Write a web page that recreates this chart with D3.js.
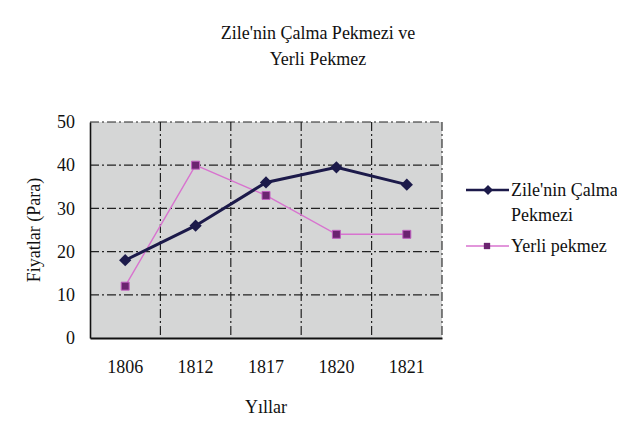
<!DOCTYPE html>
<html lang="tr">
<head>
<meta charset="UTF-8">
<title>Zile'nin Çalma Pekmezi ve Yerli Pekmez</title>
<script src="https://cdn.jsdelivr.net/npm/d3@7"></script>
<style>
  body { margin: 0; background: #fff; }
  svg text { font-family: "Liberation Serif", "Times New Roman", Times, serif !important; fill: #111; font-size: 18px; }
</style>
</head>
<body>
<script>
var years = ["1806", "1812", "1817", "1820", "1821"];
var zile = [18, 26, 36, 39.5, 35.5];
var yerli = [12, 40, 33, 24, 24];
var yTicks = [0, 10, 20, 30, 40, 50];

var width = 617, height = 443;
var plot = {left: 90, right: 442, top: 122, bottom: 338};

var svg = d3.select("body").append("svg").attr("width", width).attr("height", height);

var x = d3.scaleBand().domain(years).range([plot.left, plot.right]);
var y = d3.scaleLinear().domain([0, 50]).range([plot.bottom, plot.top]);

// title
svg.append("text").attr("x", 318).attr("y", 39).attr("text-anchor", "middle").text("Zile'nin Çalma Pekmezi ve");
svg.append("text").attr("x", 318).attr("y", 65).attr("text-anchor", "middle").text("Yerli Pekmez");

// plot background
svg.append("rect").attr("x", plot.left).attr("y", plot.top)
  .attr("width", plot.right - plot.left).attr("height", plot.bottom - plot.top)
  .attr("fill", "#d5d6d6");

// gridlines
svg.append("g").selectAll("line").data(yTicks.slice(1)).enter().append("line")
  .attr("x1", plot.left).attr("x2", plot.right)
  .attr("y1", function(d){ return y(d); }).attr("y2", function(d){ return y(d); })
  .attr("stroke", "#222").attr("stroke-width", 1.2).attr("stroke-dasharray", "9,3,2,3");
svg.append("g").selectAll("line").data(years.slice(1)).enter().append("line")
  .attr("x1", function(d){ return x(d); }).attr("x2", function(d){ return x(d); })
  .attr("y1", plot.top).attr("y2", plot.bottom)
  .attr("stroke", "#222").attr("stroke-width", 1.2).attr("stroke-dasharray", "9,3,2,3");
svg.append("line").attr("x1", plot.right).attr("x2", plot.right)
  .attr("y1", plot.top).attr("y2", plot.bottom)
  .attr("stroke", "#333").attr("stroke-width", 1.2).attr("stroke-dasharray", "9,3,2,3");

// axes
var yAxis = d3.axisLeft(y).tickValues(yTicks).tickSize(0).tickPadding(15);
var gy = svg.append("g").attr("transform", "translate(" + plot.left + ",0)").call(yAxis);
gy.select(".domain").attr("stroke", "#111").attr("stroke-width", 1.6);

var xAxis = d3.axisBottom(x).tickSize(0).tickPadding(22);
var gx = svg.append("g").attr("transform", "translate(0," + plot.bottom + ")").call(xAxis);
gx.select(".domain").attr("stroke", "#111").attr("stroke-width", 2);

// axis titles
svg.append("text").attr("transform", "translate(40,230) rotate(-90)")
  .attr("text-anchor", "middle").text("Fiyatlar (Para)");
svg.append("text").attr("x", 266).attr("y", 413).attr("text-anchor", "middle").text("Yıllar");

// lines
var line = d3.line()
  .x(function(d, i){ return x(years[i]) + x.bandwidth() / 2; })
  .y(function(d){ return y(d); });

svg.append("path").datum(yerli).attr("d", line).attr("fill", "none")
  .attr("stroke", "#d873cf").attr("stroke-width", 1.4);
svg.append("path").datum(zile).attr("d", line).attr("fill", "none")
  .attr("stroke", "#1c1a4a").attr("stroke-width", 3);

var diamond = d3.symbol().type(d3.symbolSquare).size(75);
var square = d3.symbol().type(d3.symbolSquare).size(64);

svg.append("g").selectAll("path").data(yerli).enter().append("path")
  .attr("d", square)
  .attr("transform", function(d, i){ return "translate(" + (x(years[i]) + x.bandwidth() / 2) + "," + y(d) + ")"; })
  .attr("fill", "#6b2470").attr("stroke", "#c060c0").attr("stroke-width", 1);
svg.append("g").selectAll("path").data(zile).enter().append("path")
  .attr("d", diamond)
  .attr("transform", function(d, i){ return "translate(" + (x(years[i]) + x.bandwidth() / 2) + "," + y(d) + ") rotate(45)"; })
  .attr("fill", "#1c1a4a");

// legend
var lg = svg.append("g");
lg.append("line").attr("x1", 466).attr("x2", 509).attr("y1", 190).attr("y2", 190)
  .attr("stroke", "#1c1a4a").attr("stroke-width", 2.5);
lg.append("path").attr("d", d3.symbol().type(d3.symbolSquare).size(50))
  .attr("transform", "translate(488,190) rotate(45)").attr("fill", "#1c1a4a");
lg.append("text").attr("x", 511).attr("y", 196).text("Zile'nin Çalma");
lg.append("text").attr("x", 511).attr("y", 221).text("Pekmezi");
lg.append("line").attr("x1", 466).attr("x2", 509).attr("y1", 246).attr("y2", 246)
  .attr("stroke", "#d873cf").attr("stroke-width", 1.3);
lg.append("path").attr("d", d3.symbol().type(d3.symbolSquare).size(40))
  .attr("transform", "translate(487,246)").attr("fill", "#6b2470");
lg.append("text").attr("x", 511).attr("y", 252).text("Yerli pekmez");
</script>
</body>
</html>
